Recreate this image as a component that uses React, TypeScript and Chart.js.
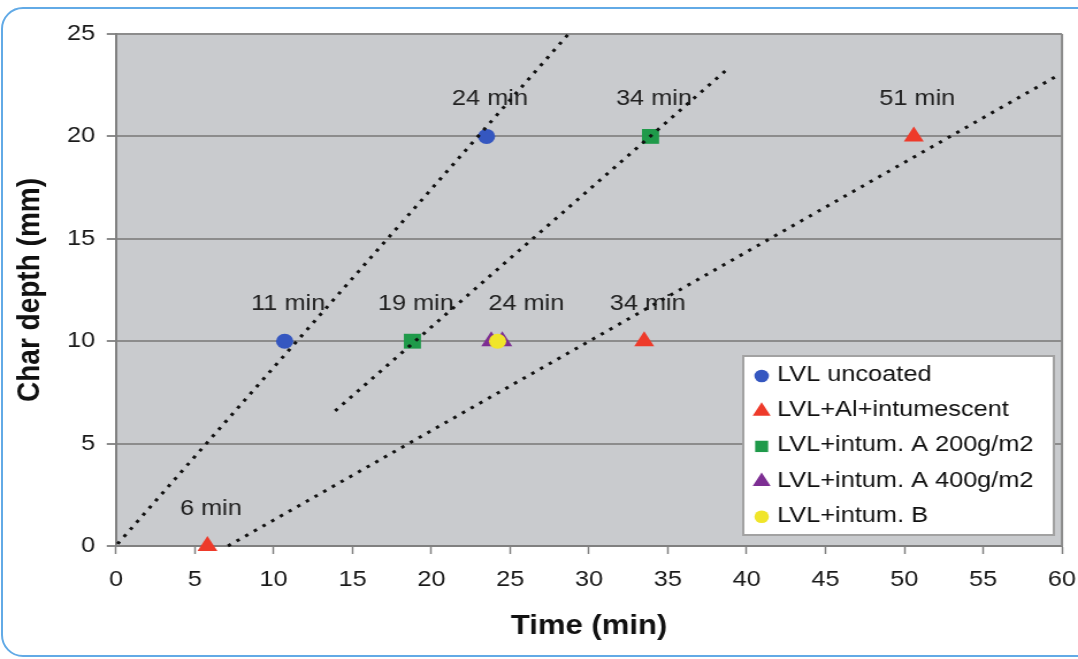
import React, { useEffect, useRef } from "react";
import { Chart, registerables } from "chart.js";

Chart.register(...registerables);

// ---------- data ----------
const xTickMin = 0;
const xTickMax = 60;
const xTickStep = 5;
const yTickMin = 0;
const yTickMax = 25;
const yTickStep = 5;

const seriesNames = [
  "LVL uncoated",
  "LVL+Al+intumescent",
  "LVL+intum. A 200g/m2",
  "LVL+intum. A 400g/m2",
  "LVL+intum. B",
];

const uncoatedX = [10.7, 23.5];
const uncoatedY = [10, 20];
const uncoatedLabels = ["11 min", "24 min"];

const alX = [5.8, 33.5, 50.6];
const alY = [0, 10, 20];
const alLabels = ["6 min", "34 min", "51 min"];

const a200X = [18.8, 33.9];
const a200Y = [10, 20];
const a200Labels = ["19 min", "34 min"];

const a400X = [23.8, 24.5];
const a400Y = [10, 10];
const a400Labels = ["", ""];

const bX = [24.2];
const bY = [10];
const bLabels = ["24 min"];

const trend1X = [0.1, 28.7];
const trend1Y = [0.1, 25];
const trend2X = [13.9, 38.8];
const trend2Y = [6.6, 23.3];
const trend3X = [7.1, 59.9];
const trend3Y = [0, 23.05];

// ---------- layout / style ----------
const SX = 1.1505;
const CW = 937;
const CH = 659;
const FONT = "'Liberation Sans', Arial, Helvetica, sans-serif";

const pts = (xs: number[], ys: number[]) => xs.map((x, i) => ({ x, y: ys[i] }));

function drawMarker(ctx: CanvasRenderingContext2D, style: string, x: number, y: number, r: number, color: string) {
  ctx.save();
  ctx.fillStyle = color;
  ctx.beginPath();
  if (style === "circle") {
    ctx.arc(x, y, r, 0, Math.PI * 2);
  } else if (style === "triangle") {
    ctx.moveTo(x, y - r);
    ctx.lineTo(x + r * 0.866, y + r / 2);
    ctx.lineTo(x - r * 0.866, y + r / 2);
    ctx.closePath();
  } else {
    const s = r * Math.SQRT1_2;
    ctx.rect(x - s, y - s, 2 * s, 2 * s);
  }
  ctx.fill();
  ctx.restore();
}

const plotBgPlugin = {
  id: "plotBg",
  beforeDraw(chart: any) {
    const { ctx, chartArea: a } = chart;
    ctx.save();
    ctx.fillStyle = "#c9cbce";
    ctx.fillRect(a.left, a.top, a.right - a.left, a.bottom - a.top);
    ctx.restore();
  },
  beforeDatasetsDraw(chart: any) {
    const { ctx, chartArea: a } = chart;
    ctx.save();
    ctx.strokeStyle = "#8a8a8a";
    ctx.lineWidth = 2;
    ctx.beginPath();
    ctx.moveTo(a.right, a.top);
    ctx.lineTo(a.right, a.bottom);
    ctx.stroke();
    // point labels (under lines & markers)
    ctx.font = `22px ${FONT}`;
    ctx.fillStyle = "#222";
    ctx.textAlign = "center";
    ctx.textBaseline = "middle";
    chart.data.datasets.forEach((ds: any, di: number) => {
      if (!ds.pointLabels) return;
      const meta = chart.getDatasetMeta(di);
      ds.pointLabels.forEach((t: string, i: number) => {
        if (!t) return;
        const el = meta.data[i];
        ctx.fillText(t, el.x + (ds.labelDx ?? 3), el.y - 37);
      });
    });
    ctx.restore();
  },
};

const legendPlugin = {
  id: "customLegend",
  afterDatasetsDraw(chart: any) {
    const { ctx } = chart;
    const box = { l: 646, t: 356, r: 916, b: 535 };
    ctx.save();
    ctx.fillStyle = "#ffffff";
    ctx.fillRect(box.l, box.t, box.r - box.l, box.b - box.t);
    ctx.strokeStyle = "#a2a2a2";
    ctx.lineWidth = 2;
    ctx.strokeRect(box.l, box.t, box.r - box.l, box.b - box.t);
    const items = chart.data.datasets.filter((d: any) => d.legendStyle);
    ctx.font = `22px ${FONT}`;
    ctx.fillStyle = "#111";
    ctx.textAlign = "left";
    ctx.textBaseline = "middle";
    items.forEach((d: any, i: number) => {
      const y = 375 + i * 35.2;
      const r = d.legendStyle === "circle" ? 6.3 : d.legendStyle === "triangle" ? 9 : 8;
      drawMarker(ctx, d.legendStyle, 662, y + 1, r, d.backgroundColor);
      ctx.fillStyle = "#111";
      ctx.fillText(d.label, 675.5, y);
    });
    ctx.restore();
  },
};

export default function App() {
  const ref = useRef<HTMLCanvasElement>(null);

  useEffect(() => {
    const canvas = ref.current;
    if (!canvas) return;

    const markerDs = (label: string, xs: number[], ys: number[], labels: string[], style: string, color: string, r: number, order: number, dx?: number) => ({
      label,
      data: pts(xs, ys),
      pointStyle: style,
      legendStyle: style,
      pointRadius: r,
      pointBorderWidth: 0,
      backgroundColor: color,
      borderColor: color,
      showLine: false,
      clip: false,
      order,
      pointLabels: labels,
      labelDx: dx,
    });

    const trendDs = (xs: number[], ys: number[]) => ({
      label: "",
      data: pts(xs, ys),
      showLine: true,
      pointRadius: 0,
      borderColor: "#111",
      borderWidth: 3,
      borderDash: [3, 6],
      fill: false,
      clip: false,
      order: 0,
    });

    const chart = new Chart(canvas, {
      type: "scatter",
      data: {
        datasets: [
          trendDs(trend1X, trend1Y),
          trendDs(trend2X, trend2Y),
          trendDs(trend3X, trend3Y),
          markerDs(seriesNames[0], uncoatedX, uncoatedY, uncoatedLabels, "circle", "#3557c0", 7.5, 2),
          markerDs(seriesNames[1], alX, alY, alLabels, "triangle", "#ee3a2a", 10, 2),
          markerDs(seriesNames[2], a200X, a200Y, a200Labels, "rect", "#1f9a4a", 10.5, 2),
          markerDs(seriesNames[3], a400X, a400Y, a400Labels, "triangle", "#7d2e93", 10, 2),
          markerDs(seriesNames[4], bX, bY, bLabels, "circle", "#f0e52a", 7.5, 1, 25),
        ] as any,
      },
      options: {
        responsive: false,
        animation: false,
        events: [],
        layout: { padding: { left: 0, right: 13.9, top: 34, bottom: 0 } },
        plugins: {
          legend: { display: false },
          tooltip: { enabled: false },
        },
        scales: {
          x: {
            type: "linear",
            min: xTickMin,
            max: xTickMax,
            ticks: {
              stepSize: xTickStep,
              padding: 13,
              color: "#1a1a1a",
              font: { family: FONT, size: 22 },
              maxRotation: 0,
            },
            grid: {
              drawOnChartArea: false,
              drawTicks: true,
              tickLength: 8,
              tickColor: "#808080",
              tickWidth: 1.5,
            },
            border: { display: true, color: "#808080", width: 2 },
            title: {
              display: true,
              text: "Time (min)",
              color: "#111",
              font: { family: FONT, size: 27, weight: "bold" },
              padding: { top: 0, bottom: 16 },
            },
            afterFit(scale: any) {
              scale.height = 113;
              scale.paddingLeft = 0;
              scale.paddingRight = 0;
            },
          },
          y: {
            type: "linear",
            min: yTickMin,
            max: yTickMax,
            ticks: {
              stepSize: yTickStep,
              padding: 10,
              color: "#1a1a1a",
              font: { family: FONT, size: 22 },
            },
            grid: {
              color: "#8c8c8c",
              lineWidth: 2,
              drawTicks: true,
              tickLength: 8,
              tickColor: "#8c8c8c",
            },
            border: { display: true, color: "#808080", width: 2 },
            title: {
              display: true,
              text: "Char depth (mm)",
              color: "#111",
              font: { family: FONT, size: 28, weight: "bold" },
              padding: { top: 9, bottom: 0 },
            },
            afterFit(scale: any) {
              scale.width = 100.8;
              scale.paddingTop = 0;
              scale.paddingBottom = 0;
            },
          },
        },
      } as any,
      plugins: [plotBgPlugin, legendPlugin],
    });

    return () => chart.destroy();
  }, []);

  return (
    <div style={{ position: "fixed", left: 0, top: 0, width: 1078, height: 659, overflow: "hidden", background: "#fff" }}>
      <div
        style={{
          position: "absolute",
          left: 1,
          top: 7,
          width: 1130,
          height: 650,
          border: "2px solid #62aae6",
          borderRadius: 22,
          boxSizing: "border-box",
        }}
      />
      <div
        style={{
          position: "absolute",
          left: 0,
          top: 0,
          width: CW,
          height: CH,
          transform: `scaleX(${SX})`,
          transformOrigin: "0 0",
        }}
      >
        <canvas ref={ref} width={CW} height={CH} style={{ width: CW, height: CH, display: "block" }} />
      </div>
    </div>
  );
}
